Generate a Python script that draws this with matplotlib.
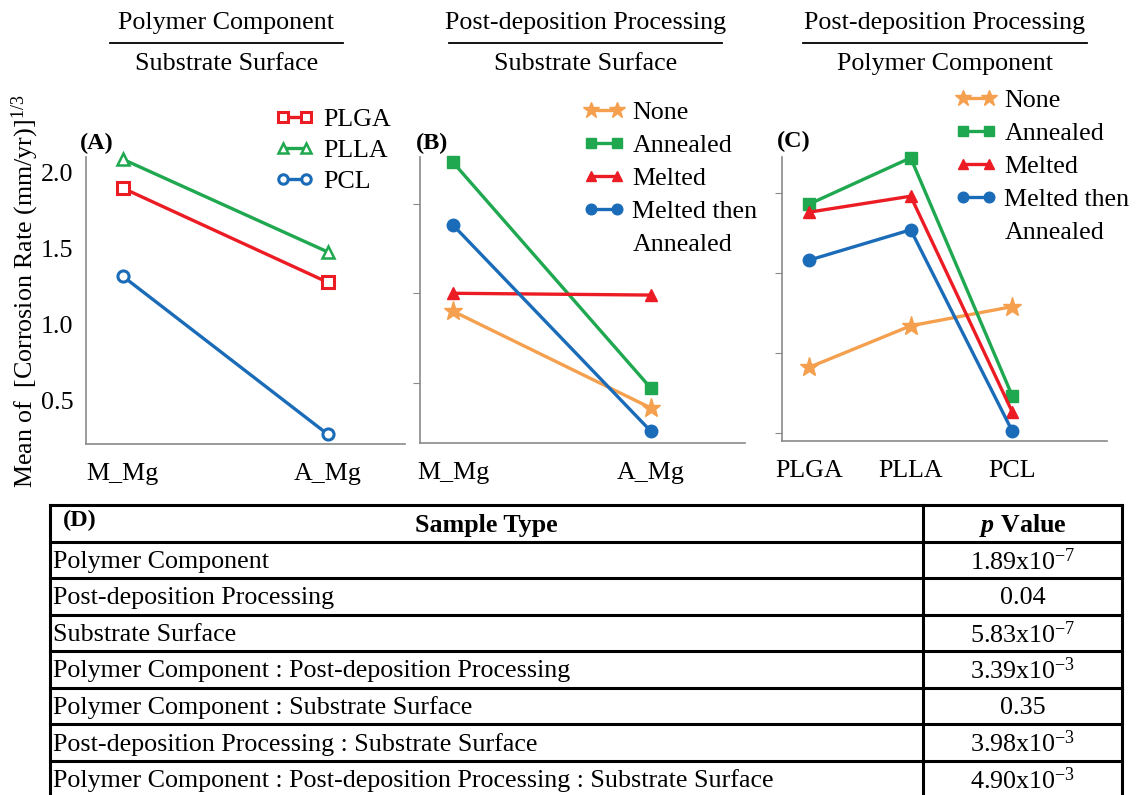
import matplotlib as mlt
mlt.use('Agg')
import matplotlib.pyplot as plt
import numpy as np
from matplotlib.lines import Line2D

plt.rcParams['font.family'] = ['Liberation Serif', 'DejaVu Serif']
plt.rcParams['mathtext.fontset'] = 'custom'
plt.rcParams['mathtext.rm'] = 'Liberation Serif'
plt.rcParams['mathtext.it'] = 'Liberation Serif:italic'
plt.rcParams['mathtext.bf'] = 'Liberation Serif:bold'
plt.rcParams['mathtext.bfit'] = 'Liberation Serif:italic:bold'
plt.rcParams['font.size'] = 18.7

# ---- data ----
substrate = ['M_Mg', 'A_Mg']
polymers = ['PLGA', 'PLLA', 'PCL']
processing = ['None', 'Annealed', 'Melted', 'Melted then\nAnnealed']

# (A) polymer x substrate
plga_by_sub = [1.90, 1.28]
plla_by_sub = [2.09, 1.48]
pcl_by_sub = [1.32, 0.28]

# (B) processing x substrate
none_by_sub = [1.40, 0.86]
annealed_by_sub = [2.23, 0.97]
melted_by_sub = [1.50, 1.49]
mta_by_sub = [1.88, 0.73]

# (C) processing x polymer
none_by_poly = [0.91, 1.17, 1.29]
annealed_by_poly = [1.93, 2.22, 0.73]
melted_by_poly = [1.88, 1.98, 0.63]
mta_by_poly = [1.58, 1.77, 0.51]

# (D) table
sample_types = ['Polymer Component',
                'Post-deposition Processing',
                'Substrate Surface',
                'Polymer Component : Post-deposition Processing',
                'Polymer Component : Substrate Surface',
                'Post-deposition Processing : Substrate Surface',
                'Polymer Component : Post-deposition Processing : Substrate Surface']
p_values = [r'1.89x10$^{-7}$', '0.04', r'5.83x10$^{-7}$', r'3.39x10$^{-3}$',
            '0.35', r'3.98x10$^{-3}$', r'4.90x10$^{-3}$']

red = '#ec1c24'
green = '#1fa84f'
blue = '#1b6cb8'
orange = '#f5a04e'

W, H = 1138, 795
fig = plt.figure(figsize=(W / 100, H / 100), dpi=100)
FS = 18.7


def fx(px):
    return px / W


def fy(py):
    return 1 - py / H


def style(ax, ylim, xlim, yticks, ylabels):
    for s in ['top', 'right']:
        ax.spines[s].set_visible(False)
    for s in ['left', 'bottom']:
        ax.spines[s].set_color('#8a8a8a')
        ax.spines[s].set_linewidth(1.2)
    ax.set_ylim(ylim)
    ax.set_xlim(xlim)
    ax.set_yticks(yticks)
    if ylabels:
        ax.set_yticklabels(['%.1f' % t for t in yticks])
        ax.tick_params(axis='y', length=0, pad=9, labelsize=FS)
    else:
        ax.set_yticklabels([])
        ax.tick_params(axis='y', length=5, color='#8a8a8a')
    ax.tick_params(axis='x', length=0, pad=14, labelsize=FS)


lw = 2.4

# ---- panel A ----
axA = fig.add_axes([fx(86), fy(444), fx(405 - 86), (444 - 157) / H])
xs = np.arange(len(substrate))
axA.plot(xs, plga_by_sub, color=red, lw=lw, marker='s', ms=8.5, mfc='white', mew=2.2, label='PLGA', clip_on=False)
axA.plot(xs, plla_by_sub, color=green, lw=lw, marker='^', ms=9, mfc='white', mew=1.8, label='PLLA', clip_on=False)
axA.plot(xs, pcl_by_sub, color=blue, lw=lw, marker='o', ms=8, mfc='white', mew=2.2, label='PCL', clip_on=False)
axA.set_xticks(xs)
axA.set_xticklabels(substrate)
style(axA, (0.217, 2.105), (-0.18, 1.376), [0.5, 1.0, 1.5, 2.0], True)
fig.legend(handles=axA.get_lines(), loc='upper left', bbox_to_anchor=(fx(275), fy(108)),
           frameon=False, numpoints=2, handlelength=1.5, handletextpad=0.35, markerscale=0.85,
           labelspacing=0.3, borderpad=0, borderaxespad=0, fontsize=FS)

# ---- panel B ----
axB = fig.add_axes([fx(420), fy(443), fx(325), (443 - 157) / H])
axB.plot(xs, none_by_sub, color=orange, lw=lw, marker='*', ms=14, label=processing[0], clip_on=False)
axB.plot(xs, annealed_by_sub, color=green, lw=lw, marker='s', ms=8.5, label=processing[1], clip_on=False)
axB.plot(xs, melted_by_sub, color=red, lw=lw, marker='^', ms=8.5, label=processing[2], clip_on=False)
axB.plot(xs, mta_by_sub, color=blue, lw=lw, marker='o', ms=9, label=processing[3], clip_on=False)
axB.set_xticks(xs)
axB.set_xticklabels(substrate)
style(axB, (0.665, 2.26), (-0.167, 1.475), [1.0, 1.5, 2.0], False)

# ---- panel C ----
axC = fig.add_axes([fx(782), fy(441), fx(325), (441 - 157) / H])
xp = np.arange(len(polymers))
axC.plot(xp, none_by_poly, color=orange, lw=lw, marker='*', ms=14, label=processing[0], clip_on=False)
axC.plot(xp, annealed_by_poly, color=green, lw=lw, marker='s', ms=8.5, label=processing[1], clip_on=False)
axC.plot(xp, melted_by_poly, color=red, lw=lw, marker='^', ms=8.5, label=processing[2], clip_on=False)
axC.plot(xp, mta_by_poly, color=blue, lw=lw, marker='o', ms=9, label=processing[3], clip_on=False)
axC.set_xticks(xp)
axC.set_xticklabels(polymers)
style(axC, (0.45, 2.225), (-0.265, 2.93), [0.5, 1.0, 1.5, 2.0], False)


def proc_legend(ax, x, y):
    hs = list(ax.get_lines())
    labs = [h.get_label() for h in hs]
    first, second = labs[3].split('\n')
    labs[3] = first
    hs.append(Line2D([], [], color='none'))
    labs.append(second)
    fig.legend(hs, labs, loc='upper left', bbox_to_anchor=(fx(x), fy(y)),
               frameon=False, numpoints=2, handlelength=1.6, handletextpad=0.3, markerscale=0.85,
               labelspacing=0.38, borderpad=0, borderaxespad=0, fontsize=FS)


proc_legend(axB, 583, 101)
proc_legend(axC, 955, 89)

# panel letters
for lab, x, y in [('(A)', 80, 143), ('(B)', 416, 143), ('(C)', 777, 141)]:
    fig.text(fx(x), fy(y), lab, fontweight='bold', fontsize=17.5, ha='left', va='center')

# fraction-style headers
heads = [('Polymer Component', 'Substrate Surface', 110, 343),
         ('Post-deposition Processing', 'Substrate Surface', 449, 722),
         ('Post-deposition Processing', 'Polymer Component', 803, 1087)]
for top, bot, x0, x1 in heads:
    xc = (x0 + x1) / 2
    fig.text(fx(xc), fy(23), top, ha='center', va='center', fontsize=FS)
    fig.add_artist(Line2D([fx(x0), fx(x1)], [fy(43), fy(43)], color='black', lw=1.3))
    fig.text(fx(xc), fy(64), bot, ha='center', va='center', fontsize=FS)

fig.text(fx(25), fy(291), r'Mean of  [Corrosion Rate (mm/yr)]$^{1/3}$', rotation=90,
         ha='center', va='center', fontsize=FS)

# ---- table D ----
axT = fig.add_axes([fx(50), fy(797), fx(1122 - 50), (797 - 505) / H])
axT.set_axis_off()
nrows = len(sample_types) + 1
axT.set_xlim(0, 1)
axT.set_ylim(nrows, 0)
split = (923 - 50) / (1122 - 50)
tlw = 2.2
for r in range(nrows + 1):
    axT.plot([0, 1], [r, r], color='black', lw=tlw, clip_on=False, solid_capstyle='projecting')
for xv in [0, split, 1]:
    axT.plot([xv, xv], [0, nrows], color='black', lw=tlw, clip_on=False, solid_capstyle='projecting')
axT.text(0.012, 0.42, '(D)', fontweight='bold', fontsize=17.5, ha='left', va='center')
axT.text(split / 2, 0.55, 'Sample Type', fontweight='bold', fontsize=FS, ha='center', va='center')
axT.text((split + 1) / 2, 0.55, r'$\mathbfit{p}$ Value', fontweight='bold', fontsize=FS, ha='center', va='center')
for i, (s, p) in enumerate(zip(sample_types, p_values)):
    axT.text(0.003, i + 1.55, s, fontsize=FS, ha='left', va='center')
    axT.text((split + 1) / 2, i + 1.55, p, fontsize=FS, ha='center', va='center')

plt.savefig('out.png', dpi=100)
